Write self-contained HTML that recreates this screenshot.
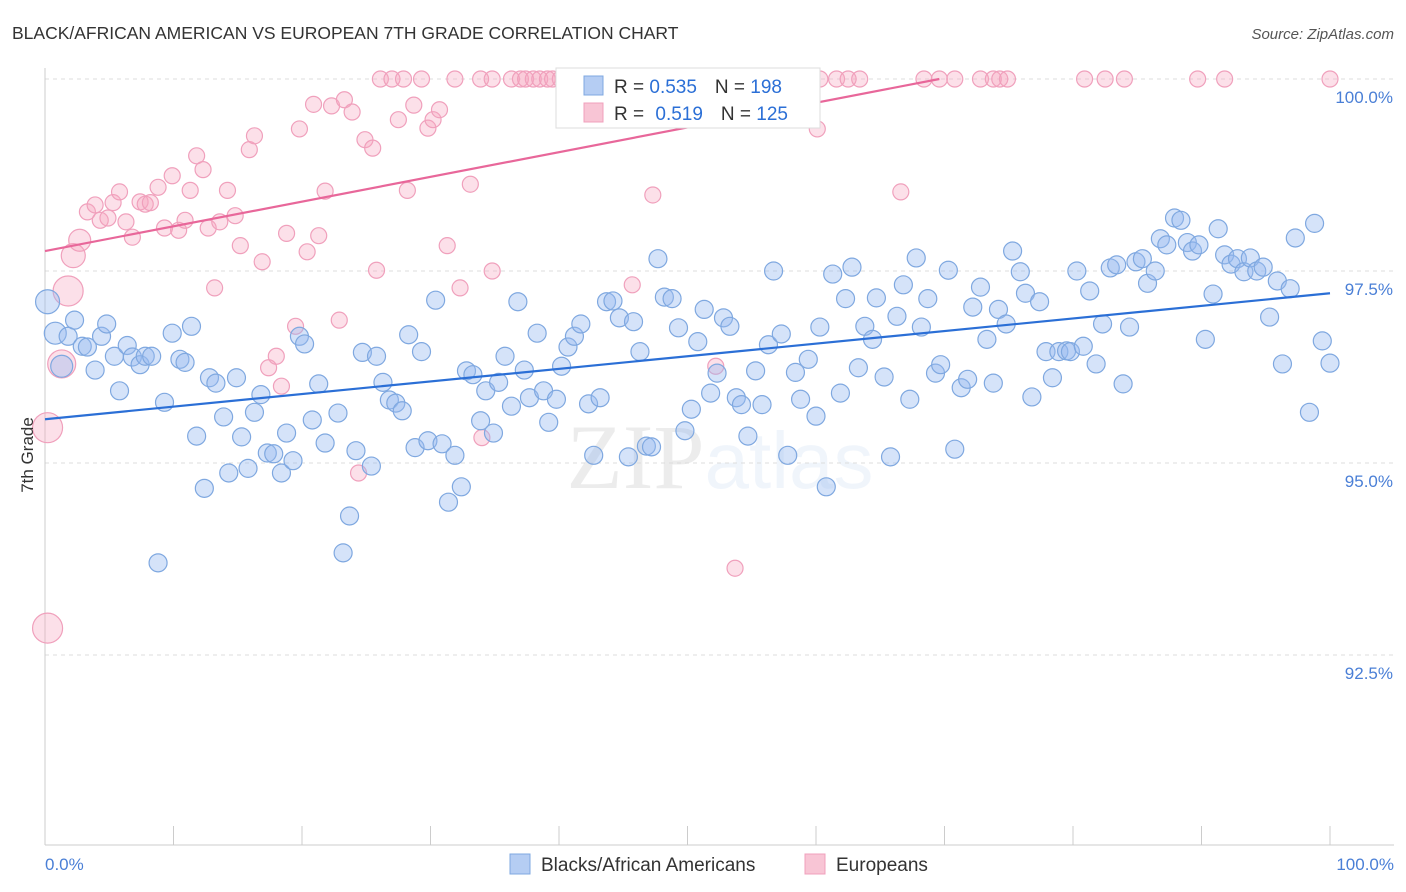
<!DOCTYPE html>
<html><head><meta charset="utf-8"><style>
body{margin:0;background:#fff;font-family:"Liberation Sans",sans-serif;}
svg{display:block}
</style></head><body>
<svg id="chart" width="1406" height="892" xmlns="http://www.w3.org/2000/svg">
<text x="12" y="39" font-size="17.5" fill="#333">BLACK/AFRICAN AMERICAN VS EUROPEAN 7TH GRADE CORRELATION CHART</text>
<text x="1394" y="39" font-size="15" fill="#555" text-anchor="end" font-style="italic">Source: ZipAtlas.com</text>
<text x="720" y="488" font-size="92" text-anchor="middle" fill="#000" opacity="0.07" font-family="Liberation Serif, serif">ZIP<tspan fill="#3a7bd5" opacity="1" font-family="Liberation Sans, sans-serif" font-size="80">atlas</tspan></text>
<g id="grid"></g><g id="axes"></g><g id="pink"></g><g id="blue"></g><g id="lines"></g>
<text transform="translate(33,455) rotate(-90)" font-size="17" fill="#333" text-anchor="middle">7th Grade</text>
<g>
<rect x="556" y="68" width="264" height="60" fill="#fff" stroke="#ddd"/>
<rect x="584" y="76" width="19" height="19" fill="#b5cdf3" stroke="#7fa8e0"/>
<rect x="584" y="103" width="19" height="19" fill="#f8c5d5" stroke="#f0a0bc"/>
<text x="614" y="93" font-size="19" fill="#333">R = <tspan fill="#2b6fd6">0.535</tspan><tspan dx="18">N = </tspan><tspan fill="#2b6fd6">198</tspan></text>
<text x="614" y="120" font-size="19" fill="#333">R = <tspan dx="6" fill="#2b6fd6">0.519</tspan><tspan dx="18">N = </tspan><tspan fill="#2b6fd6">125</tspan></text>
</g>
<g>
<rect x="510" y="854" width="20" height="20" fill="#b5cdf3" stroke="#7fa8e0"/>
<text x="541" y="871" font-size="19" fill="#333">Blacks/African Americans</text>
<rect x="805" y="854" width="20" height="20" fill="#f8c5d5" stroke="#f0a0bc"/>
<text x="836" y="871" font-size="19" fill="#333">Europeans</text>
</g>
</svg>
<script>
const yTicks=[100,97.5,95,92.5];
const yTickLabels=["100.0%","97.5%","95.0%","92.5%"];
const xTickLabels=["0.0%","100.0%"];
const blueX=[0.2,0.8,1.3,1.8,2.3,2.9,3.3,3.9,4.4,4.8,5.4,5.8,6.4,6.8,7.4,7.8,8.3,8.8,9.3,9.9,10.5,10.9,11.4,11.8,12.4,12.8,13.3,13.9,14.3,14.9,15.3,15.8,16.3,16.8,17.3,17.8,18.4,18.8,19.3,19.8,20.2,20.8,21.3,21.8,22.8,23.2,23.7,24.2,24.7,25.4,25.8,26.3,26.8,27.3,27.8,28.3,28.8,29.3,29.8,30.4,30.9,31.4,31.9,32.4,32.8,33.3,33.9,34.3,34.9,35.3,35.8,36.3,36.8,37.3,37.7,38.3,38.8,39.2,39.8,40.2,40.7,41.2,41.7,42.3,42.7,43.2,43.7,44.2,44.7,45.4,45.8,46.3,46.8,47.2,47.7,48.2,48.8,49.3,49.8,50.3,50.8,51.3,51.8,52.3,52.8,53.3,53.8,54.2,54.7,55.3,55.8,56.3,56.7,57.3,57.8,58.4,58.8,59.4,60.0,60.3,60.8,61.3,61.9,62.3,62.8,63.3,63.8,64.4,64.7,65.3,65.8,66.3,66.8,67.3,67.8,68.2,68.7,69.3,69.7,70.3,70.8,71.3,71.8,72.2,72.8,73.3,73.8,74.2,74.8,75.3,75.9,76.3,76.8,77.4,77.9,78.4,78.9,79.5,79.8,80.3,80.8,81.3,81.8,82.3,82.9,83.4,83.9,84.4,84.9,85.4,85.8,86.4,86.8,87.3,87.9,88.4,88.9,89.3,89.8,90.3,90.9,91.3,91.8,92.3,92.8,93.3,93.8,94.3,94.8,95.3,95.9,96.3,96.9,97.3,98.4,98.8,99.4,100];
const blueY=[97.10,96.69,96.26,96.65,96.86,96.52,96.51,96.21,96.65,96.81,96.39,95.94,96.53,96.38,96.28,96.39,96.39,93.70,95.79,96.69,96.35,96.31,96.78,95.35,94.67,96.11,96.04,95.60,94.87,96.11,95.34,94.93,95.66,95.89,95.13,95.12,94.87,95.39,95.03,96.65,96.55,95.56,96.03,95.26,95.65,93.83,94.31,95.16,96.44,94.96,96.39,96.05,95.82,95.78,95.68,96.67,95.20,96.45,95.29,97.12,95.25,94.49,95.10,94.69,96.20,96.15,95.55,95.94,95.39,96.05,96.39,95.74,97.10,96.21,95.85,96.69,95.94,95.53,95.83,96.26,96.51,96.65,96.81,95.77,95.10,95.85,97.10,97.11,96.89,95.08,96.84,96.45,95.22,95.21,97.66,97.16,97.14,96.76,95.42,95.70,96.58,97.0,95.91,96.17,96.89,96.78,95.85,95.76,95.35,96.20,95.76,96.54,97.50,96.68,95.10,96.18,95.83,96.35,95.61,96.77,94.69,97.46,95.91,97.14,97.55,96.24,96.78,96.61,97.15,96.12,95.08,96.91,97.32,95.83,97.67,96.77,97.14,96.17,96.28,97.51,95.18,95.98,96.09,97.03,97.29,96.61,96.04,97.0,96.81,97.76,97.49,97.21,95.86,97.10,96.45,96.11,96.45,96.46,96.45,97.50,96.52,97.24,96.29,96.81,97.54,97.58,96.03,96.77,97.62,97.66,97.34,97.50,97.92,97.84,98.19,98.16,97.87,97.76,97.84,96.61,97.20,98.05,97.71,97.59,97.66,97.49,97.67,97.50,97.55,96.90,97.37,96.29,97.27,97.93,95.66,98.12,96.59,96.30];
const pinkX=[26.1,27.0,27.9,29.3,31.9,33.9,34.8,36.3,37.0,37.4,38.0,38.5,39.1,39.5,40.1,41.3,42.4,43.3,44.7,46.3,47.9,49.4,51.0,53.3,55.6,58.0,60.3,61.6,62.5,63.4,68.4,69.6,70.8,72.8,73.8,74.3,74.9,80.9,82.5,84.0,89.7,91.8,100,
0.2,0.2,1.3,1.8,2.2,2.7,3.3,3.9,4.3,4.9,5.3,5.8,6.3,6.8,7.4,7.8,8.2,8.8,9.3,9.9,10.4,10.9,11.3,11.8,12.3,12.7,13.2,13.6,14.2,14.8,15.2,15.9,16.3,16.9,17.4,18.0,18.4,18.8,19.5,19.8,20.4,20.9,21.3,21.8,22.3,22.9,23.3,23.9,24.4,24.9,25.5,25.8,27.5,28.2,28.7,29.8,30.2,30.7,31.3,32.3,33.1,34.0,34.8,45.7,47.3,52.2,53.7,60.1,66.6];
const pinkY=[100,100,100,100,100,100,100,100,100,100,100,100,100,100,100,100,100,100,100,100,100,100,100,100,100,100,100,100,100,100,100,100,100,100,100,100,100,100,100,100,100,100,100,
92.85,95.46,96.29,97.24,97.70,97.9,98.27,98.36,98.16,98.19,98.39,98.53,98.14,97.94,98.40,98.37,98.39,98.59,98.06,98.74,98.03,98.16,98.55,99.0,98.82,98.06,97.28,98.14,98.55,98.22,97.83,99.08,99.26,97.62,96.24,96.39,96.0,97.99,96.78,99.35,97.75,99.67,97.96,98.54,99.65,96.86,99.73,99.57,94.87,99.21,99.10,97.51,99.47,98.55,99.66,99.36,99.47,99.6,97.83,97.28,98.63,95.33,97.50,97.32,98.49,96.26,93.63,99.35,98.53];
const blueTrend=[95.57,97.21];
const pinkTrend=[97.76,100,69.6];
const NS="http://www.w3.org/2000/svg";
const X0=45,X1=1330,Y100=79,PXPER=76.8;
const sx=v=>X0+(X1-X0)*v/100;
const sy=v=>Y100+(100-v)*PXPER;
function mk(tag,attrs,parent){const e=document.createElementNS(NS,tag);for(const k in attrs)e.setAttribute(k,attrs[k]);parent.appendChild(e);return e;}
const grid=document.getElementById('grid'),axes=document.getElementById('axes');
yTicks.forEach((t,i)=>{
 const l=mk('line',{x1:X0,x2:1394,y1:sy(t),y2:sy(t),stroke:'#ddd','stroke-dasharray':'4,4'},grid);
 
 
 const tx=mk('text',{x:1393,y:sy(t)+24,'font-size':17,fill:'#4a7fd6','text-anchor':'end'},axes);
 tx.textContent=yTickLabels[i];
 
 
});
const ax=mk('line',{x1:X0,x2:X0,y1:68,y2:845,stroke:'#ccc'},axes);


const bx=mk('line',{x1:X0,x2:1394,y1:845,y2:845,stroke:'#ccc'},axes);


for(let i=0;i<=10;i++){
 const t=mk('line',{x1:sx(i*10),x2:sx(i*10),y1:826,y2:845,stroke:'#ccc'},axes);
 
 
}
const xl0=mk('text',{x:45,y:870,'font-size':17,fill:'#4a7fd6'},axes);xl0.textContent=xTickLabels[0];


const xl1=mk('text',{x:1394,y:870,'font-size':17,fill:'#4a7fd6','text-anchor':'end'},axes);xl1.textContent=xTickLabels[1];


const pg=document.getElementById('pink');
pinkX.forEach((x,i)=>{
 let r=8; if(i===43)r=15; else if(i===44)r=15; else if(i===45)r=14; else if(i===46)r=15; else if(i===47)r=12; else if(i===48)r=11;
 const c=mk('circle',{cx:sx(x),cy:sy(pinkY[i]),r:r,fill:'rgba(245,165,192,0.35)',stroke:'#f0a0bc','stroke-width':1.2},pg);
 
 
});
const bg=document.getElementById('blue');
blueX.forEach((x,i)=>{
 let r=9; if(i===0)r=12; else if(i===1||i===2)r=11;
 const c=mk('circle',{cx:sx(x),cy:sy(blueY[i]),r:r,fill:'rgba(150,185,240,0.4)',stroke:'#7fa8e0','stroke-width':1.2},bg);
 
 
});
const lg=document.getElementById('lines');
const bl=mk('line',{x1:sx(0),y1:sy(blueTrend[0]),x2:sx(100),y2:sy(blueTrend[1]),stroke:'#2b6fd6','stroke-width':2.2},lg);


const pl=mk('line',{x1:sx(0),y1:sy(pinkTrend[0]),x2:sx(pinkTrend[2]),y2:sy(pinkTrend[1]),stroke:'#e8679a','stroke-width':2.2},lg);


</script>
</body></html>
